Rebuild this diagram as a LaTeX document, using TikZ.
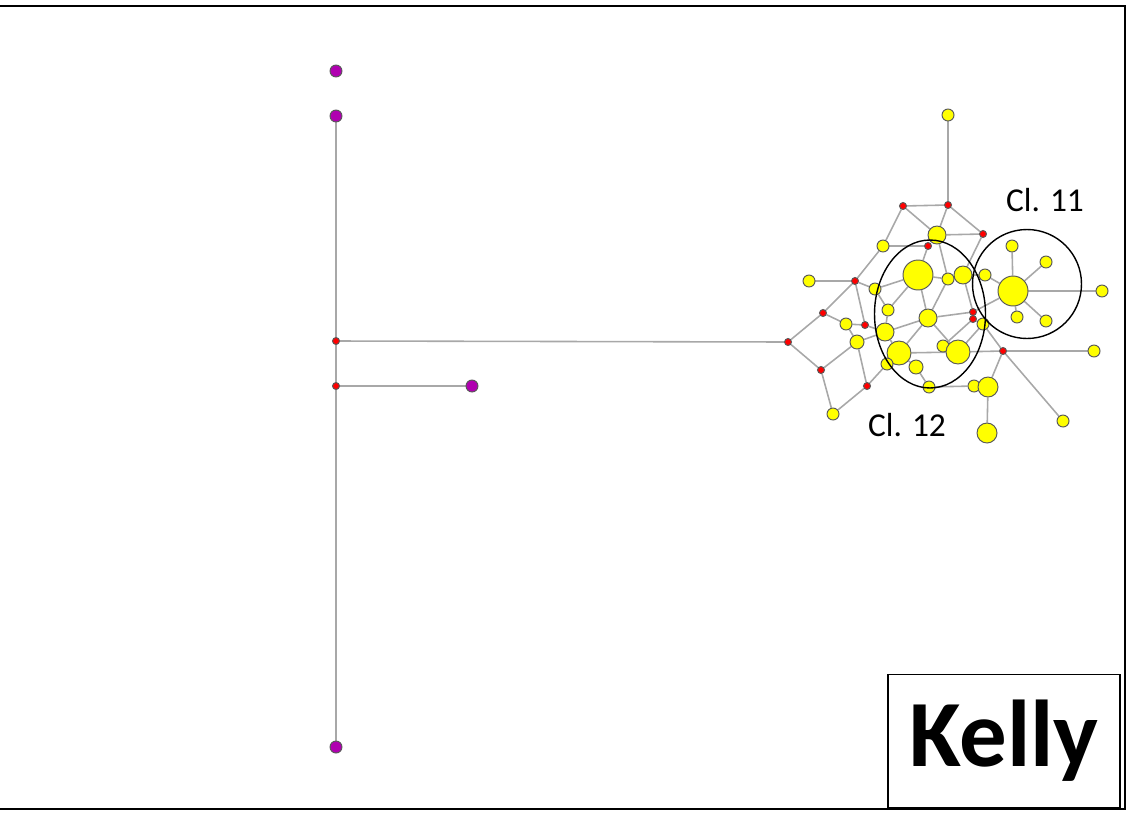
\documentclass[tikz,border=0pt]{standalone}
\usepackage{fontspec}
\setmainfont{Carlito}
\definecolor{netyellow}{HTML}{FFFF00}
\definecolor{netred}{HTML}{FF0000}
\definecolor{netpurple}{HTML}{B000B0}
\definecolor{netgray}{HTML}{A8A8A8}
\usetikzlibrary{shapes.geometric, backgrounds}

\begin{document}
\begin{tikzpicture}[
  x=0.02cm, y=-0.02cm,
  strain/.style={
    circle, draw=black!65, line width=0.55pt,
    fill=netyellow, inner sep=0pt, minimum size=#1
  },
  strain/.default=0.24cm,
  outlier/.style={strain, fill=netpurple},
  hyp/.style={strain, fill=netred, minimum size=0.14cm},
  link/.style={draw=netgray, line width=0.9pt},
  grp/.style={draw=black, line width=0.8pt, inner sep=0pt},
  lbl/.style={font=\fontsize{19}{19}\selectfont}
]
\useasboundingbox (0,0) rectangle (1129,812);

% Frame
\draw[line width=1.3pt] (0,6) -- (1125,6) -- (1125,809) -- (0,809);

% Outliers
\node[outlier] (p1) at (336,71)  {};
\node[outlier] (p2) at (336,116) {};
\node[outlier] (p3) at (336,747) {};
\node[outlier] (p4) at (472,386) {};
\node[hyp] (j1) at (336,341) {};
\node[hyp] (j2) at (336,386) {};
\node[hyp] (g)  at (788,342) {};

% Hypothetical nodes of the cluster
\node[hyp] (r1)  at (903,206) {};
\node[hyp] (r2)  at (948,205) {};
\node[hyp] (r3)  at (983,234) {};
\node[hyp] (r4)  at (928,246) {};
\node[hyp] (r5)  at (855,281) {};
\node[hyp] (r6)  at (823,313) {};
\node[hyp] (r7)  at (865,325) {};
\node[hyp] (r8)  at (821,370) {};
\node[hyp] (r9)  at (867,386) {};
\node[hyp] (r10) at (973,312) {};
\node[hyp] (r11) at (973,319) {};
\node[hyp] (r12) at (1003,351) {};

% Strains
\node[strain]        (y1)  at (948,115)  {};
\node[strain=0.36cm] (y2)  at (937,235)  {};
\node[strain]        (y3)  at (883,246)  {};
\node[strain=0.60cm] (y4)  at (918,275)  {};
\node[strain]        (y5)  at (948,279)  {};
\node[strain=0.36cm] (y6)  at (963,275)  {};
\node[strain]        (y7)  at (985,275)  {};
\node[strain]        (y8)  at (809,281)  {};
\node[strain]        (y9)  at (875,289)  {};
\node[strain]        (y10) at (888,310)  {};
\node[strain]        (y11) at (846,324)  {};
\node[strain=0.36cm] (y12) at (928,318)  {};
\node[strain=0.28cm] (y13) at (857,342)  {};
\node[strain=0.36cm] (y14) at (885,332)  {};
\node[strain=0.48cm] (y15) at (899,353)  {};
\node[strain]        (y16) at (887,364)  {};
\node[strain=0.28cm] (y17) at (916,367)  {};
\node[strain]        (y18) at (833,414)  {};
\node[strain]        (y19) at (929,387)  {};
\node[strain]        (y20) at (943,346)  {};
\node[strain=0.48cm] (y21) at (958,352)  {};
\node[strain]        (y22) at (983,324)  {};
\node[strain]        (y23) at (1094,351) {};
\node[strain]        (y24) at (974,386)  {};
\node[strain=0.40cm] (y25) at (988,387)  {};
\node[strain]        (y26) at (1063,421) {};
\node[strain=0.40cm] (y27) at (987,433)  {};
\node[strain=0.60cm] (y28) at (1013,291) {};
\node[strain]        (y29) at (1012,246) {};
\node[strain]        (y30) at (1046,262) {};
\node[strain]        (y31) at (1102,291) {};
\node[strain]        (y32) at (1017,317) {};
\node[strain]        (y33) at (1046,321) {};

% Links
\begin{scope}[on background layer]
\foreach \a/\b in {p2/j1, j1/j2, j2/p3, j2/p4, j1/g,
    g/r6, g/r8, r6/r5, r6/y11, r8/y13, r8/y18, y18/r9, r9/y13, r9/y16,
    y11/r7, y11/y13, r5/y8, r5/y3, r5/r7, r5/y9, y3/r1, y3/r4,
    r1/r2, r1/y2, r2/y1, r2/y2, r2/r3, r3/y2, r3/y6, r4/y4, y2/y5,
    y4/y5, y4/y9, y4/y12, y4/y10, y6/y7, y6/r10, y7/y28,
    y28/y29, y28/y30, y28/y31, y28/y32, y28/y33, y28/r10,
    y12/r10, y12/y21, y12/y15, y12/y14, r11/y22, r11/y20,
    r12/y23, r12/y26, r12/y22, r12/y25, r12/y21,
    y25/y27, y25/y24, y24/y19, y19/y17, y17/y15,
    y15/y14, y15/y16, y15/y21, y14/y10, y14/r7, y13/y14,
    y21/y20, y21/y22, y10/y9, y12/y5}
  \draw[link] (\a) -- (\b);
\end{scope}

% Clonal groups
\node[grp, circle, minimum size=2.18cm] (cl11) at (1027,284) {};
\node[grp, ellipse, minimum width=2.22cm, minimum height=2.96cm] (cl12) at (930,314) {};
\node[lbl] (cl11-lbl) at (1045,200) {Cl. 11};
\node[lbl] (cl12-lbl) at (907,425) {Cl. 12};

% Method name
\node[draw, line width=1.1pt, minimum width=4.64cm, minimum height=2.66cm,
  font=\fontsize{54}{54}\selectfont\bfseries] (method) at (1004,741) {Kelly};

\end{tikzpicture}
\end{document}
